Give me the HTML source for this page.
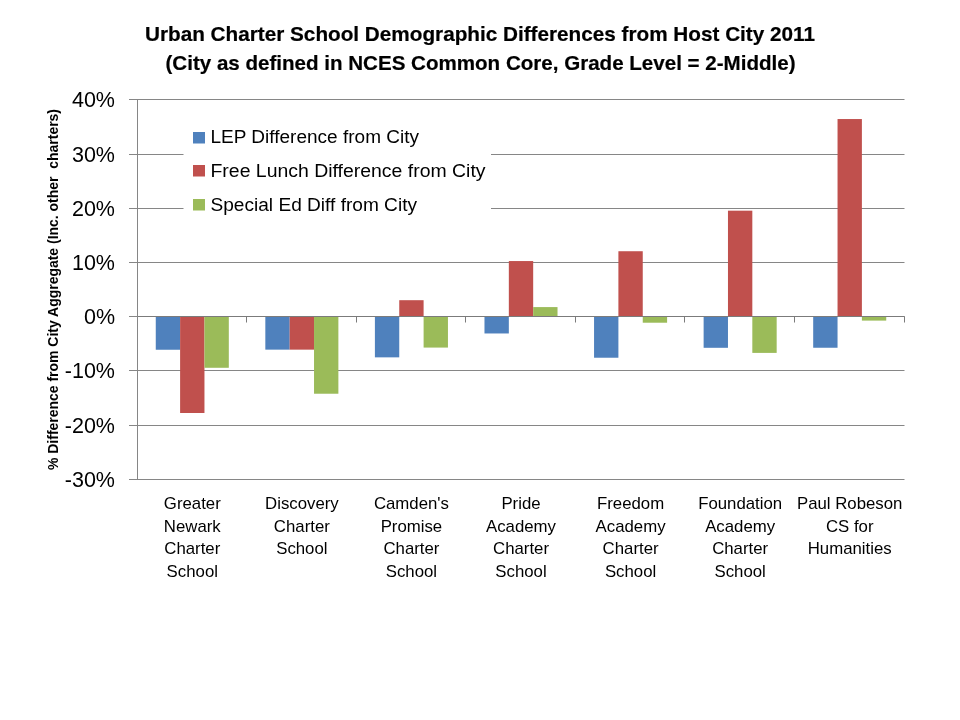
<!DOCTYPE html><html><head><meta charset="utf-8"><style>html,body{margin:0;padding:0;background:#fff;width:960px;height:720px;overflow:hidden}svg{display:block;will-change:transform}text{font-family:"Liberation Sans",sans-serif;fill:#000}</style></head><body>
<svg width="960" height="720" viewBox="0 0 960 720">
<rect width="960" height="720" fill="#fff"/>
<line x1="129" y1="99.5" x2="904.5" y2="99.5" stroke="#868686" stroke-width="1"/>
<line x1="129" y1="154.5" x2="904.5" y2="154.5" stroke="#868686" stroke-width="1"/>
<line x1="129" y1="208.5" x2="904.5" y2="208.5" stroke="#868686" stroke-width="1"/>
<line x1="129" y1="262.5" x2="904.5" y2="262.5" stroke="#868686" stroke-width="1"/>
<line x1="129" y1="316.5" x2="904.5" y2="316.5" stroke="#868686" stroke-width="1"/>
<line x1="129" y1="370.5" x2="904.5" y2="370.5" stroke="#868686" stroke-width="1"/>
<line x1="129" y1="425.5" x2="904.5" y2="425.5" stroke="#868686" stroke-width="1"/>
<line x1="129" y1="479.5" x2="904.5" y2="479.5" stroke="#868686" stroke-width="1"/>
<rect x="183.5" y="118" width="307.5" height="97" fill="#fff"/>
<rect x="155.76" y="316.64" width="24.35" height="33.11" fill="#4F81BD"/>
<rect x="180.11" y="316.64" width="24.35" height="96.36" fill="#C0504D"/>
<rect x="204.46" y="316.64" width="24.35" height="51.14" fill="#9BBB59"/>
<rect x="265.33" y="316.64" width="24.35" height="33.01" fill="#4F81BD"/>
<rect x="289.68" y="316.64" width="24.35" height="33.01" fill="#C0504D"/>
<rect x="314.03" y="316.64" width="24.35" height="77.09" fill="#9BBB59"/>
<rect x="374.90" y="316.64" width="24.35" height="40.71" fill="#4F81BD"/>
<rect x="399.25" y="300.19" width="24.35" height="16.45" fill="#C0504D"/>
<rect x="423.60" y="316.64" width="24.35" height="30.94" fill="#9BBB59"/>
<rect x="484.48" y="316.64" width="24.35" height="16.83" fill="#4F81BD"/>
<rect x="508.83" y="261.05" width="24.35" height="55.59" fill="#C0504D"/>
<rect x="533.17" y="307.09" width="24.35" height="9.55" fill="#9BBB59"/>
<rect x="594.05" y="316.64" width="24.35" height="41.09" fill="#4F81BD"/>
<rect x="618.40" y="251.23" width="24.35" height="65.41" fill="#C0504D"/>
<rect x="642.75" y="316.64" width="24.35" height="6.08" fill="#9BBB59"/>
<rect x="703.62" y="316.64" width="24.35" height="31.16" fill="#4F81BD"/>
<rect x="727.97" y="210.68" width="24.35" height="105.97" fill="#C0504D"/>
<rect x="752.32" y="316.64" width="24.35" height="36.26" fill="#9BBB59"/>
<rect x="813.19" y="316.64" width="24.35" height="31.11" fill="#4F81BD"/>
<rect x="837.54" y="119.04" width="24.35" height="197.60" fill="#C0504D"/>
<rect x="861.89" y="316.64" width="24.35" height="3.96" fill="#9BBB59"/>
<line x1="137.5" y1="316.5" x2="904.5" y2="316.5" stroke="#7b7b7b" stroke-width="1"/>
<line x1="246.5" y1="316.5" x2="246.5" y2="322.5" stroke="#7b7b7b" stroke-width="1"/>
<line x1="356.5" y1="316.5" x2="356.5" y2="322.5" stroke="#7b7b7b" stroke-width="1"/>
<line x1="465.5" y1="316.5" x2="465.5" y2="322.5" stroke="#7b7b7b" stroke-width="1"/>
<line x1="575.5" y1="316.5" x2="575.5" y2="322.5" stroke="#7b7b7b" stroke-width="1"/>
<line x1="684.5" y1="316.5" x2="684.5" y2="322.5" stroke="#7b7b7b" stroke-width="1"/>
<line x1="794.5" y1="316.5" x2="794.5" y2="322.5" stroke="#7b7b7b" stroke-width="1"/>
<line x1="904.5" y1="316.5" x2="904.5" y2="322.5" stroke="#7b7b7b" stroke-width="1"/>
<line x1="137.5" y1="99" x2="137.5" y2="480" stroke="#868686" stroke-width="1"/>
<text x="115" y="106.5" font-size="21.5" text-anchor="end">40%</text>
<text x="115" y="161.5" font-size="21.5" text-anchor="end">30%</text>
<text x="115" y="215.5" font-size="21.5" text-anchor="end">20%</text>
<text x="115" y="269.5" font-size="21.5" text-anchor="end">10%</text>
<text x="115" y="323.5" font-size="21.5" text-anchor="end">0%</text>
<text x="115" y="377.5" font-size="21.5" text-anchor="end">-10%</text>
<text x="115" y="432.5" font-size="21.5" text-anchor="end">-20%</text>
<text x="115" y="486.5" font-size="21.5" text-anchor="end">-30%</text>
<text transform="translate(58,470) rotate(-90)" font-size="14" font-weight="bold" textLength="361" lengthAdjust="spacingAndGlyphs" xml:space="preserve">% Difference from City Aggregate (Inc. other  charters)</text>
<text x="145" y="40.5" font-size="20.5" font-weight="bold" stroke="#000" stroke-width="0.2" textLength="670" lengthAdjust="spacingAndGlyphs">Urban Charter School Demographic Differences from Host City 2011</text>
<text x="165.5" y="69.5" font-size="20.5" font-weight="bold" stroke="#000" stroke-width="0.2" textLength="630" lengthAdjust="spacingAndGlyphs">(City as defined in NCES Common Core, Grade Level = 2-Middle)</text>
<rect x="193" y="132" width="12" height="11.5" fill="#4F81BD"/>
<text x="210.5" y="143.1" font-size="17.5" textLength="208.5" lengthAdjust="spacingAndGlyphs">LEP Difference from City</text>
<rect x="193" y="165" width="12" height="11.5" fill="#C0504D"/>
<text x="210.5" y="177" font-size="17.5" textLength="275" lengthAdjust="spacingAndGlyphs">Free Lunch Difference from City</text>
<rect x="193" y="199" width="12" height="11.5" fill="#9BBB59"/>
<text x="210.5" y="211" font-size="17.5" textLength="206.5" lengthAdjust="spacingAndGlyphs">Special Ed Diff from City</text>
<text transform="translate(192.29,509.0) scale(1.05,1)" font-size="16" text-anchor="middle">Greater</text>
<text transform="translate(192.29,531.6) scale(1.05,1)" font-size="16" text-anchor="middle">Newark</text>
<text transform="translate(192.29,554.2) scale(1.05,1)" font-size="16" text-anchor="middle">Charter</text>
<text transform="translate(192.29,576.8) scale(1.05,1)" font-size="16" text-anchor="middle">School</text>
<text transform="translate(301.86,509.0) scale(1.05,1)" font-size="16" text-anchor="middle">Discovery</text>
<text transform="translate(301.86,531.6) scale(1.05,1)" font-size="16" text-anchor="middle">Charter</text>
<text transform="translate(301.86,554.2) scale(1.05,1)" font-size="16" text-anchor="middle">School</text>
<text transform="translate(411.43,509.0) scale(1.05,1)" font-size="16" text-anchor="middle">Camden's</text>
<text transform="translate(411.43,531.6) scale(1.05,1)" font-size="16" text-anchor="middle">Promise</text>
<text transform="translate(411.43,554.2) scale(1.05,1)" font-size="16" text-anchor="middle">Charter</text>
<text transform="translate(411.43,576.8) scale(1.05,1)" font-size="16" text-anchor="middle">School</text>
<text transform="translate(521.00,509.0) scale(1.05,1)" font-size="16" text-anchor="middle">Pride</text>
<text transform="translate(521.00,531.6) scale(1.05,1)" font-size="16" text-anchor="middle">Academy</text>
<text transform="translate(521.00,554.2) scale(1.05,1)" font-size="16" text-anchor="middle">Charter</text>
<text transform="translate(521.00,576.8) scale(1.05,1)" font-size="16" text-anchor="middle">School</text>
<text transform="translate(630.57,509.0) scale(1.05,1)" font-size="16" text-anchor="middle">Freedom</text>
<text transform="translate(630.57,531.6) scale(1.05,1)" font-size="16" text-anchor="middle">Academy</text>
<text transform="translate(630.57,554.2) scale(1.05,1)" font-size="16" text-anchor="middle">Charter</text>
<text transform="translate(630.57,576.8) scale(1.05,1)" font-size="16" text-anchor="middle">School</text>
<text transform="translate(740.14,509.0) scale(1.05,1)" font-size="16" text-anchor="middle">Foundation</text>
<text transform="translate(740.14,531.6) scale(1.05,1)" font-size="16" text-anchor="middle">Academy</text>
<text transform="translate(740.14,554.2) scale(1.05,1)" font-size="16" text-anchor="middle">Charter</text>
<text transform="translate(740.14,576.8) scale(1.05,1)" font-size="16" text-anchor="middle">School</text>
<text transform="translate(849.71,509.0) scale(1.05,1)" font-size="16" text-anchor="middle">Paul Robeson</text>
<text transform="translate(849.71,531.6) scale(1.05,1)" font-size="16" text-anchor="middle">CS for</text>
<text transform="translate(849.71,554.2) scale(1.05,1)" font-size="16" text-anchor="middle">Humanities</text>
</svg></body></html>
